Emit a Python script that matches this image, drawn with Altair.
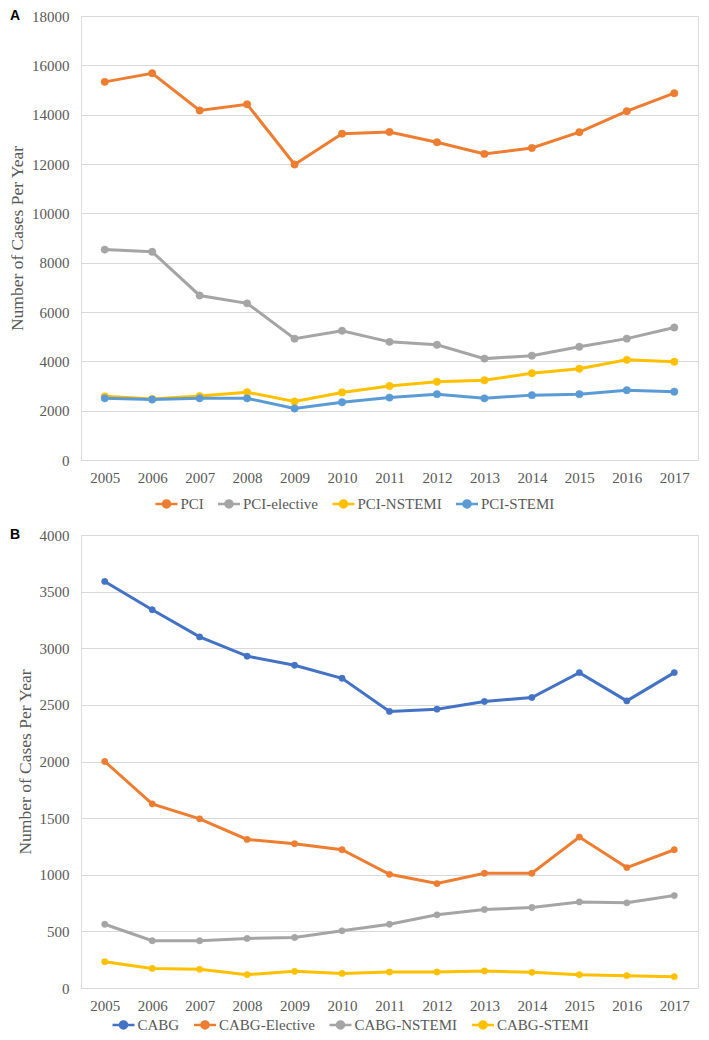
import altair as alt
import pandas as pd

years = [str(y) for y in range(2005, 2018)]

# Panel A (PCI)
pci_series = ["PCI", "PCI-elective", "PCI-NSTEMI", "PCI-STEMI"]
pci = [15330, 15680, 14170, 14420, 11980, 13230, 13300, 12880, 12410, 12650, 13290, 14140, 14870]
pci_elective = [8530, 8440, 6670, 6350, 4920, 5240, 4790, 4670, 4110, 4230, 4590, 4920, 5370]
pci_nstemi = [2580, 2470, 2590, 2750, 2370, 2740, 3000, 3170, 3230, 3520, 3700, 4060, 3980]
pci_stemi = [2500, 2450, 2500, 2500, 2090, 2340, 2530, 2670, 2500, 2630, 2670, 2830, 2770]
pci_colors = ["#ED7D31", "#A5A5A5", "#FFC000", "#5B9BD5"]

# Panel B (CABG)
cabg_series = ["CABG", "CABG-Elective", "CABG-NSTEMI", "CABG-STEMI"]
cabg = [3590, 3340, 3100, 2930, 2850, 2735, 2442, 2462, 2530, 2565, 2785, 2535, 2785]
cabg_elective = [2000, 1626, 1494, 1312, 1274, 1221, 1004, 922, 1013, 1013, 1333, 1063, 1221]
cabg_nstemi = [563, 417, 417, 438, 446, 505, 563, 646, 693, 711, 760, 752, 816]
cabg_stemi = [232, 173, 165, 118, 147, 129, 141, 141, 150, 138, 118, 109, 100]
cabg_colors = ["#4472C4", "#ED7D31", "#A5A5A5", "#FFC000"]

yticks_a = list(range(0, 18001, 2000))
yticks_b = list(range(0, 4001, 500))

SERIF = "Liberation Serif"
TXT = "#595959"
SYM = "M-2,0L2,0M-0.64,0A0.64,0.64,0,1,1,0.64,0A0.64,0.64,0,1,1,-0.64,0Z"


def make_df(names, arrays):
    rows = []
    for n, arr in zip(names, arrays):
        for y, v in zip(years, arr):
            rows.append({"year": y, "series": n, "value": v})
    return pd.DataFrame(rows)


def panel(df, names, colors, ticks, ymax, width, height, letter, lx, ly, colpad, psize):
    sc = alt.Scale(domain=names, range=colors)
    leg = alt.Legend(
        title=None, orient="none", legendX=lx, legendY=ly, direction="horizontal",
        columns=4, symbolType=SYM, symbolSize=121, symbolStrokeWidth=2.5,
        labelFont=SERIF, labelFontSize=15, labelColor=TXT, labelOffset=6.5,
        columnPadding=colpad, padding=0,
    )
    x = alt.X("year:O", sort=years, scale=alt.Scale(type="point", padding=0.5),
              axis=alt.Axis(title=None, labelAngle=0, domain=False, ticks=False, grid=False,
                            labelFont=SERIF, labelFontSize=15, labelColor=TXT, labelPadding=10))
    y = alt.Y("value:Q", scale=alt.Scale(domain=[0, ymax], nice=False),
              axis=alt.Axis(title="Number of Cases Per Year", values=ticks, format="d",
                            domain=False, ticks=False, grid=True, gridColor="#D9D9D9",
                            labelFont=SERIF, labelFontSize=15, labelColor=TXT, labelPadding=12,
                            titleFont=SERIF, titleFontSize=17.5, titleFontWeight="normal",
                            titleColor=TXT, titlePadding=5))
    base = alt.Chart(df).encode(x=x, y=y)
    line = base.mark_line(strokeWidth=3).encode(
        stroke=alt.Stroke("series:N", scale=sc, legend=leg))
    pts = base.mark_point(filled=True, size=psize, opacity=1, strokeWidth=0.5).encode(
        fill=alt.Fill("series:N", scale=sc, legend=leg),
        stroke=alt.Stroke("series:N", scale=sc, legend=leg))
    lab = alt.Chart(pd.DataFrame({"t": [letter]})).mark_text(
        font="Liberation Sans", fontWeight="bold", fontSize=14, align="left",
        baseline="middle", color="#000000").encode(
        text="t:N", x=alt.value(-71), y=alt.value(0))
    return alt.layer(line, pts, lab).properties(width=width, height=height)


dfa = make_df(pci_series, [pci, pci_elective, pci_nstemi, pci_stemi])
dfb = make_df(cabg_series, [cabg, cabg_elective, cabg_nstemi, cabg_stemi])

a = panel(dfa, pci_series, pci_colors, yticks_a, 18000, 617, 444, "A", 78, 480, 8.5, 55)
b = panel(dfb, cabg_series, cabg_colors, yticks_b, 4000, 617, 453, "B", 35, 482, 8.5, 40)

chart = alt.vconcat(a, b, spacing=13).resolve_scale(
    fill="independent", stroke="independent").resolve_legend(
    fill="independent", stroke="independent").properties(
    padding=0).configure_view(stroke=None).configure(background="white")

chart.save("out.html", embed_options={"renderer": "svg", "actions": False})
